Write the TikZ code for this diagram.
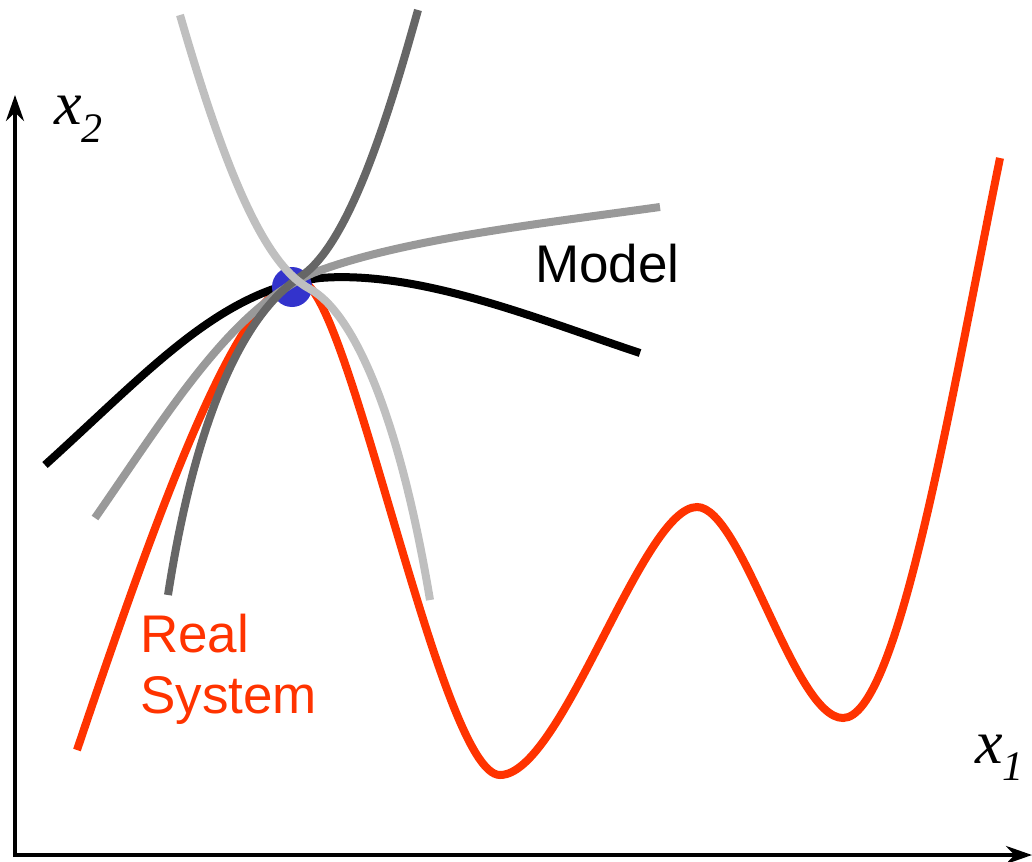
\documentclass[tikz,border=0pt]{standalone}
\usepackage{fontspec}
\setmainfont{Liberation Serif}
\setsansfont{Liberation Sans}
\usetikzlibrary{arrows.meta}
\definecolor{sysred}{HTML}{FF3300}
\definecolor{ptblue}{HTML}{3333CC}
\definecolor{mdark}{HTML}{666666}
\definecolor{mmid}{HTML}{999999}
\definecolor{mlight}{HTML}{BFBFBF}

\begin{document}
\begin{tikzpicture}[
 x=1pt, y=-1pt,
 axis/.style={line width=4pt,-{Stealth[length=26pt,width=18pt]}},
 curve/.style={line width=8pt},
 lbl/.style={font=\sffamily\fontsize{53}{61}\selectfont,inner sep=0pt,anchor=base west,align=left},
 axlbl/.style={font=\itshape\fontsize{62}{62}\selectfont,inner sep=0pt,anchor=base west}
]
\useasboundingbox (0,0) rectangle (1032,861);
% axes
\draw[axis] (15,857) -- (15,95);
\draw[axis] (13,855) -- (1032,855);
\node[axlbl] (xtwo) at (54,125) {x\raisebox{-18pt}{\fontsize{42}{42}\selectfont 2}};
\node[axlbl] (xone) at (975,763) {x\raisebox{-17pt}{\fontsize{42}{42}\selectfont 1}};
% real system
\coordinate (top) at (300,281);
\coordinate (low1) at (500,775);
\coordinate (hill) at (697,507);
\coordinate (low2) at (843,718);
\draw[curve,sysred] (77,750) .. controls (157,513) and (240,281) .. (top)
 .. controls (348,281) and (440,775) .. (low1)
 .. controls (562,775) and (642,507) .. (hill)
 .. controls (742,507) and (794,718) .. (low2)
 .. controls (898,718) and (950,403) .. (1000,158);
% local models
\draw[curve,black] (45,465) .. controls (150,370) and (220,290) .. (320,278)
 .. controls (420,270) and (540,320) .. (640,353);
\fill[ptblue] (292,287) circle (20);
\draw[curve,mmid] (95,518) .. controls (170,410) and (230,310) .. (313,273)
 .. controls (400,240) and (530,225) .. (660,207);
\draw[curve,mdark] (168,595) .. controls (192,440) and (235,320) .. (300,277)
 .. controls (350,245) and (390,110) .. (418,10);
\draw[curve,mlight] (180,15) .. controls (222,160) and (262,264) .. (310,289)
 .. controls (355,314) and (400,420) .. (430,600);
\node[lbl] (model) at (535,282) {Model};
\node[lbl,text=sysred] (real) at (140,713) {Real\\System};
\end{tikzpicture}
\end{document}
